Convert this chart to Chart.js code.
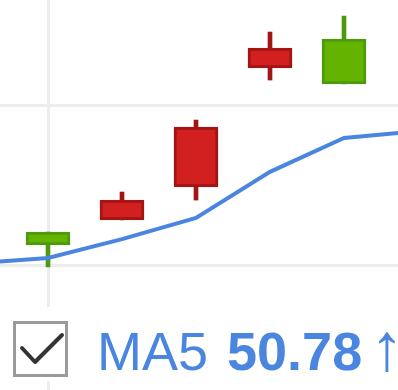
<!DOCTYPE html>
<html>
<head>
<meta charset="utf-8">
<script src="https://cdn.jsdelivr.net/npm/chart.js@4"></script>
<style>
  html, body { margin: 0; padding: 0; background: #fff; }
  #wrap { position: relative; width: 398px; height: 390px; overflow: hidden; }
  #legend {
    position: absolute; left: 0; top: 307px; width: 398px; height: 74px;
    background: #fff; font-family: "Liberation Sans", Arial, sans-serif;
  }
  #box {
    position: absolute; left: 13px; top: 14px; width: 55px; height: 56px;
    box-sizing: border-box; border: 3px solid #9a9a9a; background: #fff;
  }
  #box svg { position: absolute; left: 0; top: 0; }
  #label {
    position: absolute; left: 97px; top: 13px; font-size: 54px;
    color: #4a86e0; white-space: nowrap; line-height: normal;
  }
  #label b { font-weight: bold; margin-left: 4px; }
  #label .arrow { font-size: 67px; margin-left: 8px; line-height: 0; }
</style>
</head>
<body>
<div id="wrap">
  <canvas id="chart"></canvas>
  <div id="legend">
    <div id="box">
      <svg width="49" height="50"><polyline points="6,24 19,38 46,11" fill="none" stroke="#333" stroke-width="4" stroke-linecap="round" stroke-linejoin="round"/></svg>
    </div>
    <div id="label">MA5 <b>50.78</b><span class="arrow">&#8593;</span></div>
  </div>
</div>
<script>
// candles (index on x axis, open/close/high/low)
var idx   = [5, 6, 7, 8, 9];
var open  = [50.63, 52.03, 54.31, 56.78, 55.66];
var close = [51.03, 51.41, 52.44, 56.16, 57.06];
var high  = [51.03, 52.28, 54.53, 57.28, 57.78];
var low   = [49.94, 51.41, 52.03, 55.78, 55.66];

// MA5 line, includes points just outside the visible range
var maIdx = [4, 5, 6, 7, 8, 9, 10];
var ma5   = [50.05, 50.22, 50.81, 51.47, 52.91, 53.97, 54.18];

var upFill = "#64b300", upLine = "#4e9a0e";
var downFill = "#d21f1f", downLine = "#a21515";

var bodies = [], wicks = [], bodyFill = [], bodyLine = [];
for (var i = 0; i < idx.length; i++) {
  var up = close[i] >= open[i];
  bodies.push({ x: idx[i], y: [open[i], close[i]] });
  wicks.push({ x: idx[i], y: [low[i], high[i]] });
  bodyFill.push(up ? upFill : downFill);
  bodyLine.push(up ? upLine : downLine);
}
var maPoints = maIdx.map(function(x, i) { return { x: x, y: ma5[i] }; });

function keepEvery(step) {
  return function(scale) {
    scale.ticks = scale.ticks.filter(function(t) {
      return Math.abs(t.value / step - Math.round(t.value / step)) < 1e-9;
    });
  };
}

new Chart(document.getElementById("chart"), {
  type: "bar",
  data: {
    datasets: [
      {
        type: "line",
        data: maPoints,
        borderColor: "#4a86e0",
        borderWidth: 4,
        pointRadius: 0,
        tension: 0,
        order: 0
      },
      {
        data: bodies,
        backgroundColor: bodyFill,
        borderColor: bodyLine,
        borderWidth: 3,
        borderSkipped: false,
        barThickness: 44,
        grouped: false,
        order: 1
      },
      {
        data: wicks,
        backgroundColor: bodyLine,
        borderWidth: 0,
        barThickness: 4,
        grouped: false,
        order: 2
      }
    ]
  },
  options: {
    responsive: true,
    maintainAspectRatio: false,
    animation: false,
    layout: { padding: 0 },
    plugins: { legend: { display: false }, tooltip: { enabled: false } },
    scales: {
      x: {
        type: "linear",
        offset: false,
        min: 5 - 48 / 74,
        max: 5 + 350 / 74,
        afterBuildTicks: keepEvery(5),
        grid: { offset: false, color: "#ededed", lineWidth: 3, drawTicks: false },
        border: { display: false },
        ticks: { display: false, stepSize: 1, includeBounds: false }
      },
      y: {
        min: 50 - 125 / 32,
        max: 50 + 265 / 32,
        afterBuildTicks: keepEvery(5),
        grid: { color: "#ededed", lineWidth: 3, drawTicks: false },
        border: { display: false },
        ticks: { display: false, stepSize: 5, includeBounds: false }
      }
    }
  }
});
</script>
</body>
</html>
